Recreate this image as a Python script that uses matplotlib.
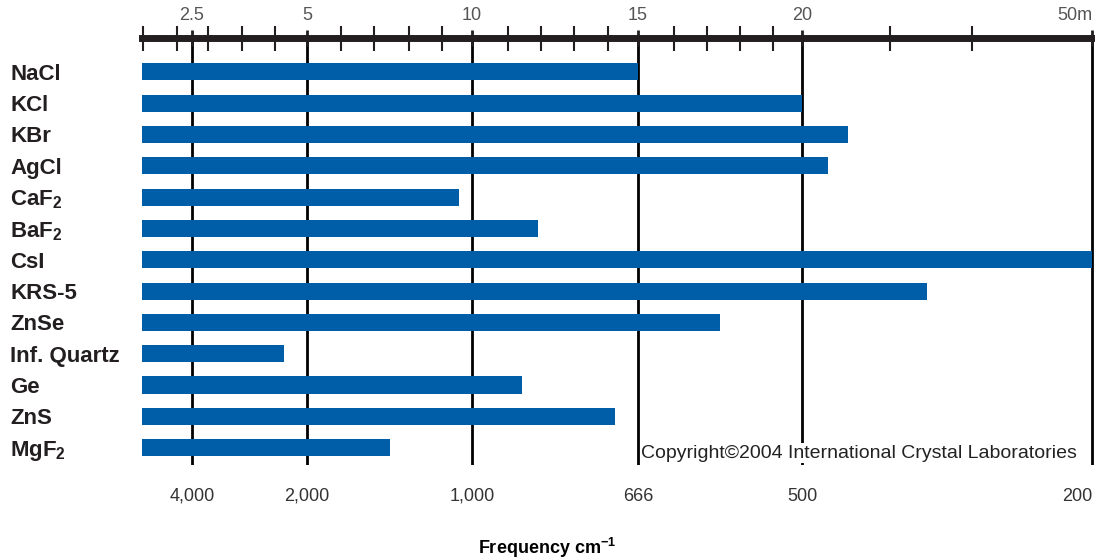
import numpy as np
import matplotlib
matplotlib.use("Agg")
import matplotlib.pyplot as plt

plt.rcParams['font.family'] = ['Liberation Sans', 'DejaVu Sans']
plt.rcParams['mathtext.fontset'] = 'custom'
plt.rcParams['mathtext.rm'] = 'Liberation Sans:bold'

materials = ['NaCl', 'KCl', 'KBr', 'AgCl', 'CaF$_2$', 'BaF$_2$', 'CsI', 'KRS-5',
             'ZnSe', 'Inf. Quartz', 'Ge', 'ZnS', 'MgF$_2$']
cutoff_um = [15, 20, 24.8, 22.7, 9.6, 12, 50, 32.9, 17.5, 4.5, 11.5, 14.3, 7.5]

wl_ticks = [2.5, 5, 10, 15, 20, 50]
wl_labels = ['2.5', '5', '10', '15', '20', '50m']
freq_labels = ['4,000', '2,000', '1,000', '666', '500', '200']

# piecewise chart scale (wavelength -> chart position)
knots_wl = np.array([1.4, 2.5, 5, 10, 15, 20, 50, 52])
knots_px = np.array([142, 192, 307, 472, 638, 802, 1092, 1100])
fwd = lambda w: np.interp(w, knots_wl, knots_px)
inv = lambda p: np.interp(p, knots_px, knots_wl)

# short ruler ticks
minor_wl = inv(np.array([143, 177, 208, 242, 275, 341, 374, 409, 442, 508, 541,
                         574, 608, 674, 707, 740, 773, 890, 972]))

fig = plt.figure(figsize=(10.95, 5.59), dpi=100)
ax = fig.add_axes([142/1095, 1-465/559, 1-142/1095, (465-38)/559])
ax.set_xscale('function', functions=(fwd, inv))
ax.set_xlim(1.4, inv(1095))
y = np.arange(len(materials))
ax.set_ylim(len(materials) - 0.45, -1.08)

ax.barh(y, [c - 1.4 for c in cutoff_um], left=1.4, height=0.55, color='#005ea8', zorder=2)
for w in wl_ticks:
    ax.axvline(w, color='black', lw=2, zorder=1)

for s in ['left', 'right', 'bottom']:
    ax.spines[s].set_visible(False)
ax.spines['top'].set_linewidth(5)
ax.spines['top'].set_color('#231f20')
ax.spines['top'].set_zorder(5)

ax.set_yticks(y)
ax.set_yticklabels(materials, fontsize=16, fontweight='bold', color='#231f20')
ax.tick_params(axis='y', length=0, pad=95)
for t in ax.get_yticklabels():
    t.set_horizontalalignment('left')

ax.xaxis.tick_top()
ax.set_xticks(wl_ticks)
ax.set_xticklabels(wl_labels, fontsize=13, color='#555555')
ax.set_xticks(minor_wl, minor=True)
ax.tick_params(axis='x', which='major', direction='inout', length=12, width=2,
               color='#231f20', pad=4)
ax.tick_params(axis='x', which='minor', direction='inout', length=18, width=1.5, color='#231f20')
ax.get_xticklabels()[-1].set_horizontalalignment('right')

for w, lab in zip(wl_ticks, freq_labels):
    ax.text(w, len(materials) + 0.55, lab, ha='right' if w == 50 else 'center',
            va='center', fontsize=13, color='#333333', clip_on=False)

fig.text(0.5, 1 - 548/559, 'Frequency cm$^{-1}$', ha='center', va='center',
         fontsize=13, fontweight='bold')
fig.text(1077/1095, 1-453/559, 'Copyright\u00a92004 International Crystal Laboratories',
         ha='right', va='center', fontsize=14, color='#222222',
         bbox=dict(facecolor='white', edgecolor='none', pad=1))

fig.savefig('out.png', dpi=100)
